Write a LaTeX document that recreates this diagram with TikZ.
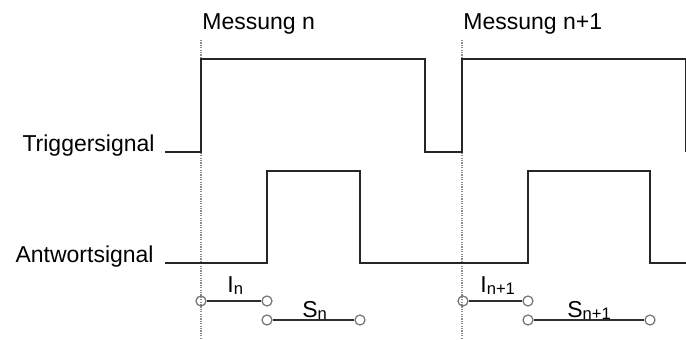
\documentclass[tikz,border=0pt]{standalone}
\usepackage{fontspec}
\setmainfont{Liberation Sans}
\begin{document}
\begin{tikzpicture}[x=0.5pt,y=-0.5pt,
  signal/.style={draw=black!85, line width=1.05pt, line join=miter},
  marker/.style={draw=black!45, line width=0.6pt, dash pattern=on 0.6pt off 0.6pt},
  endpt/.style={circle, draw=black!55, line width=0.6pt, minimum size=5pt, inner sep=0pt},
  span/.style={draw=black!82, line width=0.9pt},
  lbl/.style={inner sep=0pt, font=\fontsize{11.5}{13}\selectfont},
]
\newcommand{\sbs}[1]{\raisebox{-1pt}{\fontsize{8.3}{9}\selectfont #1}}
\useasboundingbox (0,0) rectangle (686,340);

% measurement markers
\coordinate (m1top) at (201,40);
\coordinate (m1bot) at (201,340);
\coordinate (m2top) at (462,40);
\coordinate (m2bot) at (462,340);
\draw[marker] (m1top) -- (m1bot);
\draw[marker] (m2top) -- (m2bot);

% headings
\node[lbl, anchor=base west] (hn) at (202,30) {Messung n};
\node[lbl, anchor=base west] (hn1) at (463,30) {Messung n+1};

% signal names
\node[lbl, anchor=base east] (trig) at (155,152) {Triggersignal};
\node[lbl, anchor=base east] (resp) at (154,263) {Antwortsignal};

% trigger signal
\draw[signal] (165,152) -- (201,152) -- (201,59) -- (425,59) -- (425,152)
  -- (462,152) -- (462,59) -- (686,59) -- (686,152);

% response signal
\draw[signal] (165,263) -- (267,263) -- (267,171) -- (360,171) -- (360,263)
  -- (528,263) -- (528,171) -- (650,171) -- (650,263) -- (686,263);

% intervals
\node[endpt] (i1a) at (201,301) {};
\node[endpt] (i1b) at (267,301) {};
\node[endpt] (s1a) at (267,320) {};
\node[endpt] (s1b) at (360,320) {};
\node[endpt] (i2a) at (463,301) {};
\node[endpt] (i2b) at (528,301) {};
\node[endpt] (s2a) at (528,320) {};
\node[endpt] (s2b) at (650,320) {};
\draw[span] (i1a) -- (i1b);
\draw[span] (s1a) -- (s1b);
\draw[span] (i2a) -- (i2b);
\draw[span] (s2a) -- (s2b);

\node[lbl, anchor=base west] (li1) at (227,293) {I\sbs{n}};
\node[lbl, anchor=base west] (ls1) at (302,318) {S\sbs{n}};
\node[lbl, anchor=base west] (li2) at (480,293) {I\sbs{n+1}};
\node[lbl, anchor=base west] (ls2) at (567,318) {S\sbs{n+1}};
\end{tikzpicture}
\end{document}
